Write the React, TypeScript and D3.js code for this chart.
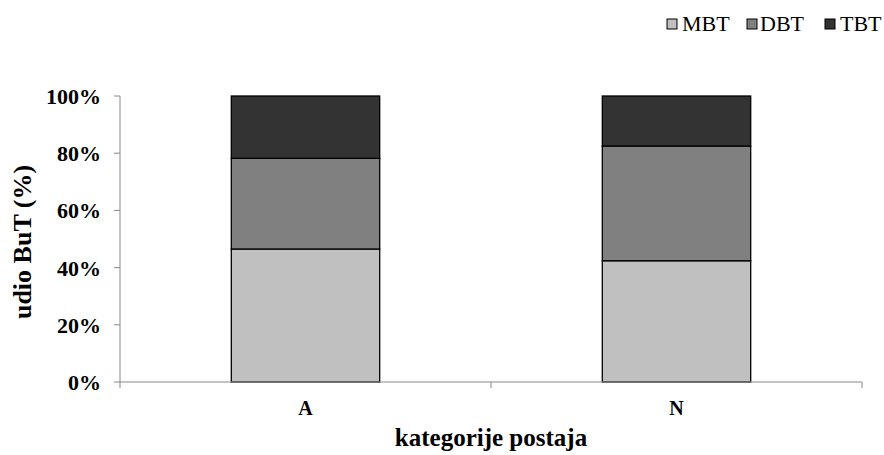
import React from "react";
import * as d3 from "d3";

const categories = ["A", "N"];
const seriesNames = ["MBT", "DBT", "TBT"];
const mbt = [0.465, 0.424];
const dbt = [0.317, 0.401];
const tbt = [0.218, 0.175];
const yTicks = [0, 0.2, 0.4, 0.6, 0.8, 1.0];
const colors = ["#c0c0c0", "#808080", "#333333"];

export default function App() {
  const W = 884, H = 455;
  const left = 120, right = 862, top = 96, bottom = 382;
  const x = d3.scaleBand<string>().domain(categories).range([left, right]).paddingInner(0).paddingOuter(0);
  const y = d3.scaleLinear().domain([0, 1]).range([bottom, top]);
  const rows = categories.map((c, i) => ({ cat: c, MBT: mbt[i], DBT: dbt[i], TBT: tbt[i] }));
  const stacked = d3.stack<any>().keys(seriesNames)(rows);
  const bw = x.bandwidth() * 0.4;
  const font = "Liberation Serif, Times New Roman, DejaVu Serif, serif";
  const ts = { fontFamily: font };
  const pct = d3.format(".0%");
  const boundaries = [left, ...categories.map((c) => (x(c) as number) + x.bandwidth())];
  const legendX = [667, 747, 825];
  const legendTextX = [682, 760, 840];
  return (
    <svg width={W} height={H} style={{ position: "absolute", left: 0, top: 0, fontFamily: font }}>
      <rect width={W} height={H} fill="#fff" />
      {stacked.map((s, si) => (
        <g key={s.key}>
          {s.map((d, i) => {
            const cx = (x(categories[i]) as number) + x.bandwidth() / 2;
            return (
              <rect key={i} x={cx - bw / 2} y={y(d[1])} width={bw} height={y(d[0]) - y(d[1])}
                fill={colors[si]} stroke="#000" strokeWidth={1.3} />
            );
          })}
        </g>
      ))}
      {/* y axis */}
      <line x1={left} x2={left} y1={top} y2={bottom} stroke="#888" strokeWidth={1} />
      {yTicks.map((t) => (
        <g key={t}>
          <line x1={left - 6} x2={left} y1={y(t)} y2={y(t)} stroke="#888" />
          <text style={ts} x={101} y={y(t) + 8} textAnchor="end" fontWeight="bold" fontSize={22}>{pct(t)}</text>
        </g>
      ))}
      {/* x axis */}
      <line x1={left} x2={right} y1={bottom} y2={bottom} stroke="#888" strokeWidth={1} />
      {boundaries.map((b, i) => (
        <line key={i} x1={b} x2={b} y1={bottom} y2={bottom + 6} stroke="#888" />
      ))}
      {categories.map((c) => (
        <text style={ts} key={c} x={(x(c) as number) + x.bandwidth() / 2} y={415} textAnchor="middle" fontWeight="bold" fontSize={20}>{c}</text>
      ))}
      <text style={ts} x={(left + right) / 2} y={446} textAnchor="middle" fontWeight="bold" fontSize={25}>kategorije postaja</text>
      <text style={ts} transform={`translate(31,242) rotate(-90)`} textAnchor="middle" fontWeight="bold" fontSize={26}>udio BuT (%)</text>
      {/* legend */}
      {seriesNames.map((n, i) => (
        <g key={n}>
          <rect x={legendX[i]} y={19} width={10} height={10} fill={colors[i]} stroke="#000" strokeWidth={1} />
          <text style={ts} x={legendTextX[i]} y={31} fontSize={22}>{n}</text>
        </g>
      ))}
    </svg>
  );
}
